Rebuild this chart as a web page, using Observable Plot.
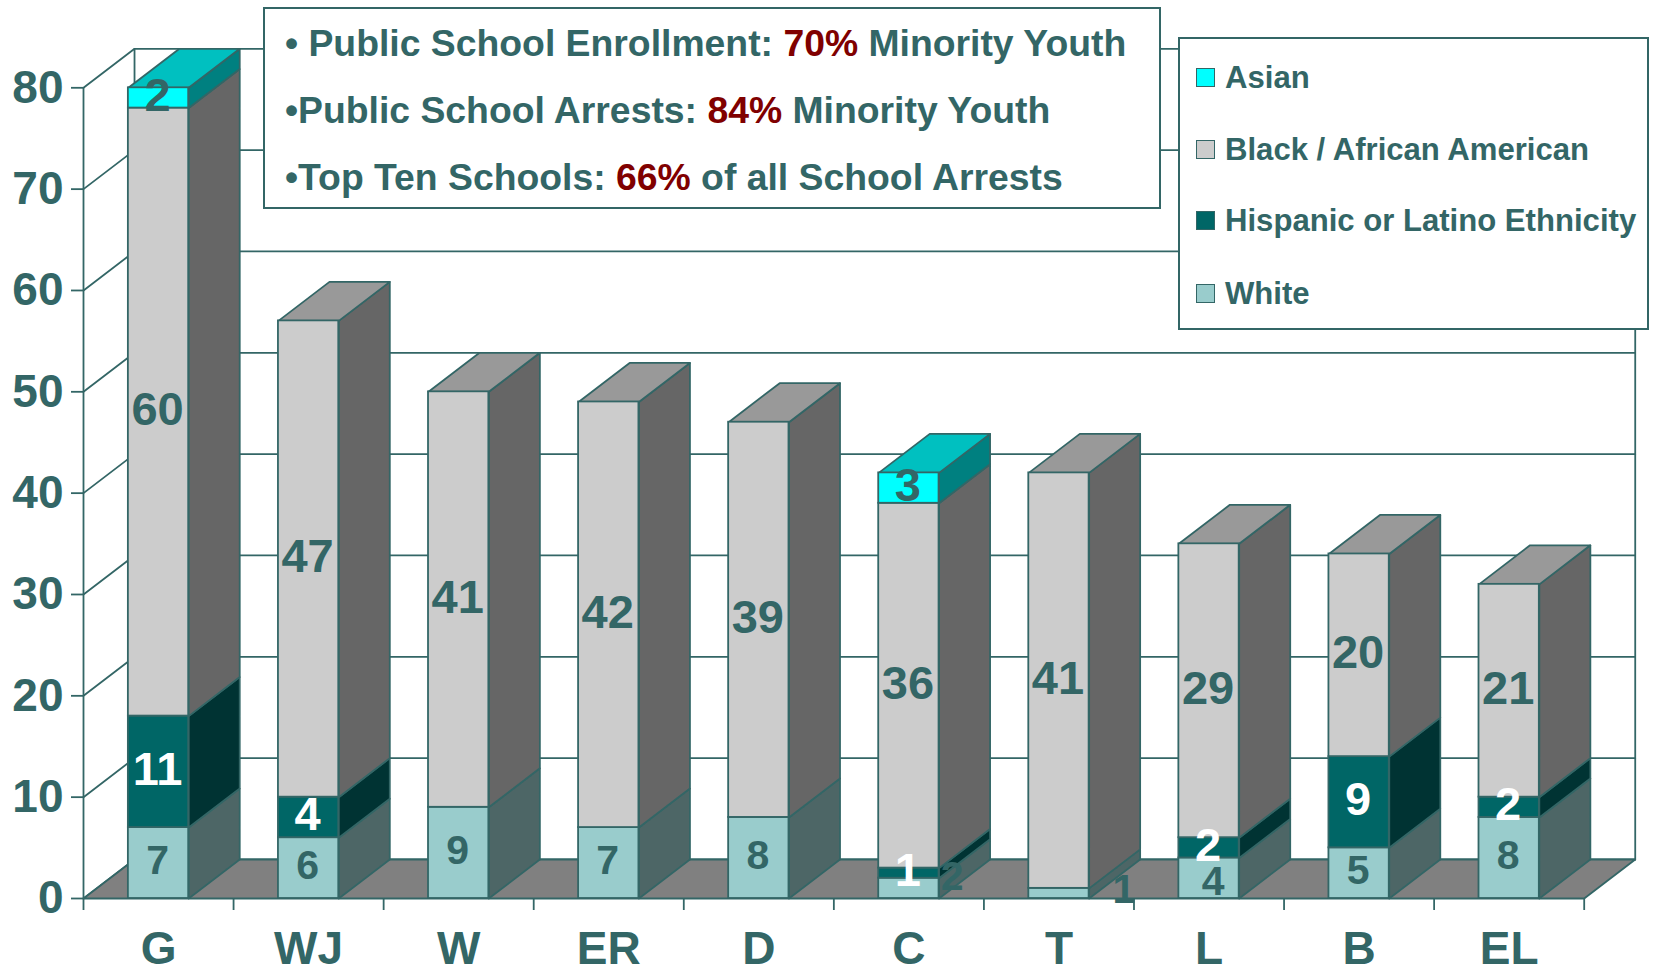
<!DOCTYPE html>
<html>
<head>
<meta charset="utf-8">
<script src="https://cdn.jsdelivr.net/npm/d3@7"></script>
<script src="https://cdn.jsdelivr.net/npm/@observablehq/plot@0.6"></script>
<style>
  html, body { margin: 0; padding: 0; background: #fff; }
  #wrap { position: relative; width: 1653px; height: 969px; overflow: hidden; font-family: "Liberation Sans", Arial, sans-serif; font-weight: bold; color: #336666; }
  .box { position: absolute; background: #fff; border: 2px solid #336666; box-sizing: border-box; }
  .line { position: absolute; white-space: nowrap; }
  .hot { color: #800000; }
  .swatch { position: absolute; width: 19px; height: 19px; box-sizing: border-box; border: 1.5px solid #336666; }
</style>
</head>
<body>
<div id="wrap"></div>
<script>
const categories = ["G", "WJ", "W", "ER", "D", "C", "T", "L", "B", "EL"];
const white    = [7, 6, 9, 7, 8, 2, 1, 4, 5, 8];
const hispanic = [11, 4, 0, 0, 0, 1, 0, 2, 9, 2];
const black    = [60, 47, 41, 42, 39, 36, 41, 29, 20, 21];
const asian    = [2, 0, 0, 0, 0, 3, 0, 0, 0, 0];
const seriesNames = ["White", "Hispanic or Latino Ethnicity", "Black / African American", "Asian"];
const legendOrder = ["Asian", "Black / African American", "Hispanic or Latino Ethnicity", "White"];
const yTicks = [0, 10, 20, 30, 40, 50, 60, 70, 80];
const frontColors = ["#99CCCC", "#006666", "#CCCCCC", "#00FFFF"];
const sideColors  = ["#4D6666", "#003333", "#666666", "#008080"];
const topColors   = ["#99CCCC", "#006666", "#999999", "#00C0C0"];
const ink = "#336666";

// 3-D projection of the depth axis and bar width, in data units
const depthX = 0.34, depthY = 3.85, barWidth = 0.402;
// labels that sit away from the middle of their segment: [category shift, value shift]
const labelNudge = {"C|0": [0.295, 0.95], "T|0": [0.44, 0.2], "L|0": [0.035, -0.6]};

const seriesValues = [white, hispanic, black, asian];
const fronts = [], polys = [], labels = [];
const poly = (id, pts, fill) => pts.concat([pts[0]]).forEach(([x, y]) => polys.push({id, x, y, fill}));

categories.forEach((c, i) => {
  let base = 0, topSeries = 0;
  const xa = i + 0.5 - barWidth / 2, xb = i + 0.5 + barWidth / 2;
  seriesValues.forEach((vals, s) => {
    const v = vals[i];
    if (!v) return;
    const y1 = base, y2 = base + v;
    fronts.push({x1: xa, x2: xb, y1, y2, fill: frontColors[s]});
    poly(`side-${i}-${s}`, [[xb, y1], [xb + depthX, y1 + depthY], [xb + depthX, y2 + depthY], [xb, y2]], sideColors[s]);
    const n = labelNudge[c + "|" + s] || [0, 0];
    labels.push({x: i + 0.5 + n[0], y: (y1 + y2) / 2 + n[1], text: String(v),
                 fill: s === 1 ? "#fff" : ink, size: s === 0 ? 41 : 47});
    base = y2; topSeries = s;
  });
  poly(`top-${i}`, [[xa, base], [xa + depthX, base + depthY], [xb + depthX, base + depthY], [xb, base]], topColors[topSeries]);
});

const n = categories.length;
const wallLines = [];
yTicks.forEach(t => [[0, t], [depthX, t + depthY], [n + depthX, t + depthY]].forEach(([x, y]) => wallLines.push({id: "h" + t, x, y})));
[[0, 0], [depthX, depthY], [n + depthX, depthY]].forEach(([x, y], k) => {
  wallLines.push({id: "v" + k, x, y});
  wallLines.push({id: "v" + k, x, y: y + 80});
});
const floor = [[0, 0], [depthX, depthY], [n + depthX, depthY], [n, 0], [0, 0]].map(([x, y]) => ({x, y}));

const lw = 1.8;
const chart = Plot.plot({
  width: 1653, height: 969,
  marginLeft: 83, marginRight: 69.3, marginTop: 87.3, marginBottom: 71,
  x: {domain: [0, n], label: null},
  y: {domain: [0, 80], label: null},
  style: {fontFamily: '"Liberation Sans", Arial, sans-serif', fontWeight: "bold", color: ink, background: "transparent", overflow: "visible"},
  marks: [
    Plot.line(wallLines, {x: "x", y: "y", z: "id", stroke: ink, strokeWidth: lw, curve: "linear"}),
    Plot.line(floor, {x: "x", y: "y", fill: "#808080", stroke: ink, strokeWidth: lw, curve: "linear"}),
    Plot.line(polys, {x: "x", y: "y", z: "id", fill: "fill", stroke: ink, strokeWidth: lw, strokeLinejoin: "round", curve: "linear"}),
    Plot.rect(fronts, {x1: "x1", x2: "x2", y1: "y1", y2: "y2", fill: "fill", stroke: ink, strokeWidth: lw, inset: 0}),
    Plot.axisY({ticks: yTicks, tickSize: 12, tickPadding: 8, fontSize: 46, fontWeight: "bold", label: null, stroke: ink, strokeWidth: lw, fill: ink, textStroke: "none"}),
    Plot.axisX({ticks: d3.range(0, n + 1), tickSize: 12, tickFormat: () => "", label: null, stroke: ink, strokeWidth: lw}),
    Plot.axisX({ticks: categories.map((_, i) => i + 0.5), tickSize: 0, tickPadding: 33, tickFormat: d => categories[d - 0.5],
                fontSize: 46, fontWeight: "bold", label: null, fill: ink}),
    Plot.text(labels, {x: "x", y: "y", text: "text", fill: "fill", fontSize: "size", fontWeight: "bold", dx: -1, dy: -2})
  ]
});

const wrap = document.getElementById("wrap");
wrap.appendChild(chart);

// Note box above the chart
const noteLines = [
  ["• Public School Enrollment: ", "70%", " Minority Youth"],
  ["•Public School Arrests: ", "84%", " Minority Youth"],
  ["•Top Ten Schools: ", "66%", " of all School Arrests"]
];
const note = document.createElement("div");
note.className = "box";
Object.assign(note.style, {left: "263px", top: "7px", width: "898px", height: "202px"});
noteLines.forEach((parts, k) => {
  const l = document.createElement("div");
  l.className = "line";
  Object.assign(l.style, {left: "20px", top: (12 + k * 67) + "px", fontSize: "37.35px", lineHeight: "44px"});
  parts.forEach((p, j) => {
    const s = document.createElement("span");
    s.textContent = p;
    s.style.whiteSpace = "pre";
    if (j === 1) s.className = "hot";
    l.appendChild(s);
  });
  note.appendChild(l);
});
wrap.appendChild(note);

// Legend box
const legend = document.createElement("div");
legend.className = "box";
Object.assign(legend.style, {left: "1178px", top: "37px", width: "471px", height: "293px"});
legendOrder.forEach((name, k) => {
  const cy = [39, 111, 182, 255][k];
  const sw = document.createElement("div");
  sw.className = "swatch";
  Object.assign(sw.style, {left: "16px", top: (cy - 10) + "px", background: frontColors[seriesNames.indexOf(name)]});
  legend.appendChild(sw);
  const t = document.createElement("div");
  t.className = "line";
  t.textContent = name;
  Object.assign(t.style, {left: "45px", top: (cy - 20) + "px", fontSize: "31.1px", lineHeight: "40px"});
  legend.appendChild(t);
});
wrap.appendChild(legend);
</script>
</body>
</html>
